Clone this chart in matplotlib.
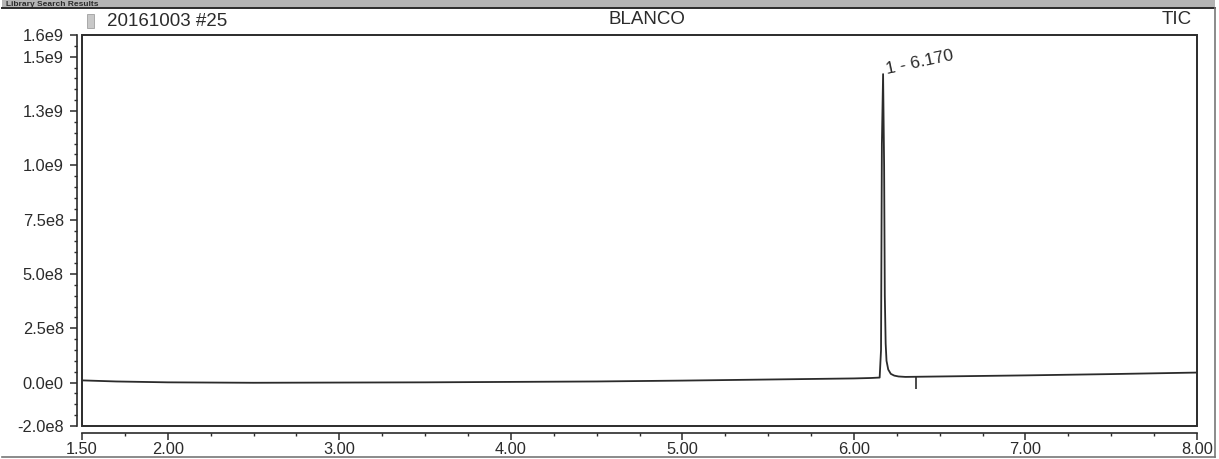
import numpy as np
import matplotlib
matplotlib.use("Agg")
import matplotlib.pyplot as plt
from matplotlib.patches import Rectangle
from matplotlib.lines import Line2D
from matplotlib.ticker import FixedLocator, MultipleLocator

plt.rcParams['font.family'] = ['Liberation Sans', 'DejaVu Sans']

# Total ion chromatogram of the blank run
rt_min = [1.50, 1.70, 2.00, 2.50, 3.00, 3.50, 4.00, 4.50, 5.00, 5.50, 6.00,
          6.10, 6.150, 6.158, 6.163, 6.170, 6.176, 6.180, 6.185, 6.190,
          6.200, 6.215, 6.235, 6.260, 6.300, 6.500, 7.000, 7.500, 8.000]
tic = [1.0e7, 5.0e6, 1.0e6, -1.0e6, 0.0, 1.0e6, 3.0e6, 5.0e6, 9.0e6, 1.4e7, 1.9e7,
       2.1e7, 2.3e7, 1.5e8, 1.1e9, 1.42e9, 1.0e9, 4.0e8, 1.8e8, 1.0e8,
       6.0e7, 4.0e7, 3.2e7, 2.8e7, 2.6e7, 2.8e7, 3.3e7, 3.9e7, 4.6e7]

peak_number = 1
peak_rt = 6.170
peak_height = 1.42e9
peak_end_rt = 6.36

y_ticks = [-2.0e8, 0.0, 2.5e8, 5.0e8, 7.5e8, 1.0e9, 1.25e9, 1.5e9, 1.6e9]
y_tick_labels = ["-2.0e8", "0.0e0", "2.5e8", "5.0e8", "7.5e8", "1.0e9", "1.3e9", "1.5e9", "1.6e9"]
x_ticks = [1.50, 2.00, 3.00, 4.00, 5.00, 6.00, 7.00, 8.00]
x_tick_labels = ["1.50", "2.00", "3.00", "4.00", "5.00", "6.00", "7.00", "8.00"]

sample_name = "20161003 #25"
sample_title = "BLANCO"
trace_type = "TIC"
header_text = "Library Search Results"

ink = "#2b2b2b"
W, H = 1219, 459
fig = plt.figure(figsize=(W / 100, H / 100), dpi=100)
fig.patch.set_facecolor("white")

ax = fig.add_axes([82 / W, 1 - 426 / H, (1197 - 82) / W, (426 - 35) / H])
ax.set_xlim(1.5, 8.0)
ax.set_ylim(-2.0e8, 1.6e9)

ax.plot(rt_min, tic, color=ink, lw=1.3, solid_joinstyle="round")

# peak label and integration end marker
ax.annotate(f"{peak_number} - {peak_rt:.3f}", xy=(peak_rt, peak_height),
            xytext=(3, 0), textcoords="offset points", rotation=12,
            rotation_mode="anchor", ha="left", va="baseline",
            fontsize=12.5, color=ink)
end_base = np.interp(peak_end_rt, rt_min, tic)
ax.vlines(peak_end_rt, end_base - 5.5e7, end_base, color=ink, lw=1.2)

# frame around the plotting area; axes lines sit slightly outside it
ax.add_patch(Rectangle((0, 0), 1, 1, transform=ax.transAxes, fill=False,
                       ec=ink, lw=1.4, clip_on=False, zorder=3))
for s in ("top", "right"):
    ax.spines[s].set_visible(False)
ax.spines["left"].set_position(("outward", 3.6))
ax.spines["bottom"].set_position(("outward", 5.0))
for s in ("left", "bottom"):
    ax.spines[s].set_color(ink)
    ax.spines[s].set_linewidth(1.2)

ax.yaxis.set_major_locator(FixedLocator(y_ticks))
ax.set_yticklabels(y_tick_labels)
ax.yaxis.set_minor_locator(MultipleLocator(5.0e7))
ax.xaxis.set_major_locator(FixedLocator(x_ticks))
ax.set_xticklabels(x_tick_labels)
ax.xaxis.set_minor_locator(MultipleLocator(0.25))

ax.tick_params(axis="both", which="major", direction="out", length=5,
               width=1.1, color=ink, labelcolor=ink, labelsize=11.8)
ax.tick_params(axis="both", which="minor", direction="out", length=2,
               width=1.0, color=ink)
ax.tick_params(axis="y", which="major", pad=4.5)
ax.tick_params(axis="x", which="major", pad=1.5)

# header strip and labels
strip_h = 8
fig.add_artist(Rectangle((2 / W, 1 - strip_h / H), (1215 - 2) / W, strip_h / H,
                         transform=fig.transFigure, fc="#b4b4b4", ec="none"))
fig.add_artist(Line2D([2 / W, 1215 / W], [1 - strip_h / H, 1 - strip_h / H],
                      transform=fig.transFigure, color=ink, lw=1.4))
fig.text(6 / W, 1 - 4 / H, header_text, fontsize=6, color=ink,
         fontweight="bold", ha="left", va="center")
fig.add_artist(Line2D([1215 / W, 1215 / W], [2 / H, 1 - strip_h / H],
                      transform=fig.transFigure, color="#777777", lw=1.2))
fig.add_artist(Line2D([2 / W, 1215 / W], [2 / H, 2 / H],
                      transform=fig.transFigure, color="#777777", lw=1.2))

fig.add_artist(Rectangle((87 / W, 1 - 28 / H), 7 / W, 14 / H,
                         transform=fig.transFigure, fc="#c8c8c8", ec="#a0a0a0", lw=0.6))
fig.text(107 / W, 1 - 21 / H, sample_name, fontsize=13.5, color=ink,
         ha="left", va="center")
fig.text(647 / W, 1 - 20 / H, sample_title, fontsize=13.5, color=ink,
         ha="center", va="center")
fig.text(1192 / W, 1 - 20 / H, trace_type, fontsize=13.5, color=ink,
         ha="right", va="center")

fig.savefig("out.png", dpi=100)
